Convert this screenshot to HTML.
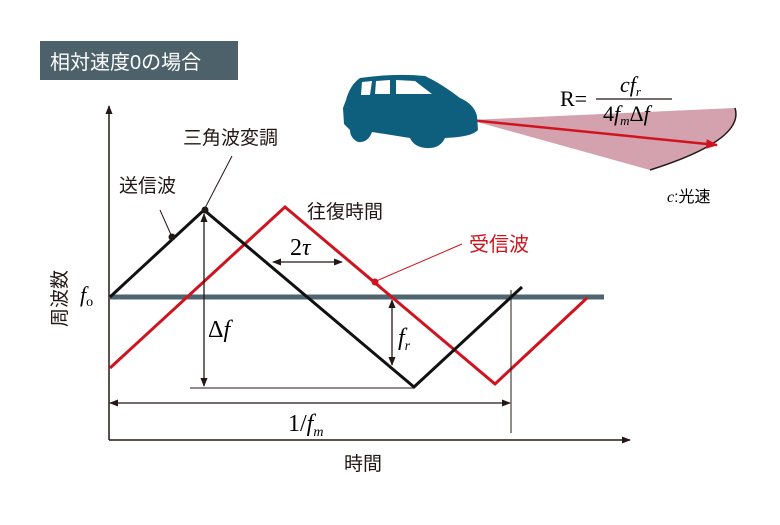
<!DOCTYPE html>
<html><head><meta charset="utf-8"><style>
body{margin:0;background:#fff;width:780px;height:520px;overflow:hidden}
svg text{font-family:"Liberation Sans","Noto Sans CJK JP",sans-serif}
.s{font-family:"Liberation Serif",serif;font-style:italic}
.r{font-family:"Liberation Serif",serif}
</style></head><body>
<svg width="780" height="520" viewBox="0 0 780 520" xmlns="http://www.w3.org/2000/svg">
<defs>
<marker id="a" viewBox="0 0 10 10" refX="9" refY="5" markerWidth="9" markerHeight="9" markerUnits="userSpaceOnUse" orient="auto-start-reverse"><path d="M0,1 L10,5 L0,9z" fill="#231815"/></marker>
<marker id="ar" viewBox="0 0 10 10" refX="9" refY="5" markerWidth="12" markerHeight="12" markerUnits="userSpaceOnUse" orient="auto"><path d="M0,1 L10,5 L0,9z" fill="#d0141f"/></marker>
</defs>
<rect x="40" y="41" width="198" height="39" fill="#4d616b"/>
<text x="50" y="69" font-size="20" fill="#fff">相対速度0の場合</text>
<!-- beam -->
<path d="M470,120 L735,108 Q745,140 650,170 Z" fill="#d4a2ae"/>
<path d="M735,108 Q745,140 650,170" fill="none" stroke="#231815" stroke-width="1.5"/>
<line x1="470" y1="120" x2="717" y2="145" stroke="#d0141f" stroke-width="2.5" marker-end="url(#ar)"/>
<!-- car -->
<path d="M346,100 Q350,85 360,78 Q395,73 425,76 Q442,84 460,98 Q474,104 477,116 L478,130 Q472,137 445,138 Q440,149 426,148 Q414,147 410,138 L372,132 Q368,143 358,142 Q350,138 350,130 L344,124 L343,108 Z" fill="#0e5f7d"/>
<path d="M362,82 L372,81 L370,95 L361,95 Z M376,81 L390,80 L390,94 L375,94 Z M396,80 L415,81 L432,94 L396,94 Z" fill="#fff"/>
<text x="560" y="106" font-size="22" class="r">R=</text>
<line x1="596" y1="99" x2="672" y2="99" stroke="#231815" stroke-width="1.3"/>
<text x="620" y="92" font-size="22" class="s">cf<tspan font-size="13" dy="4">r</tspan></text>
<text x="603" y="121" font-size="22" class="r">4<tspan class="s">f</tspan><tspan class="s" font-size="13" dy="4">m</tspan><tspan dy="-4">Δ</tspan><tspan class="s">f</tspan></text>
<text x="667" y="202" font-size="16"><tspan class="s">c</tspan>:光速</text>
<!-- axes -->
<line x1="109" y1="440" x2="109" y2="106" stroke="#231815" stroke-width="1.5" marker-end="url(#a)"/>
<line x1="109" y1="440" x2="630" y2="440" stroke="#231815" stroke-width="1.5" marker-end="url(#a)"/>
<line x1="110" y1="297" x2="604" y2="297" stroke="#4e6470" stroke-width="5"/>
<polyline points="110,368 285,207 495,384 587,298" fill="none" stroke="#d0141f" stroke-width="3"/>
<polyline points="110,297 204,210 414,387 522,287" fill="none" stroke="#111" stroke-width="3"/>
<!-- dims -->
<line x1="190" y1="388" x2="414" y2="388" stroke="#231815" stroke-width="1"/>
<line x1="204" y1="214" x2="204" y2="386" stroke="#231815" stroke-width="1.3" marker-start="url(#a)" marker-end="url(#a)"/>
<line x1="392" y1="300" x2="392" y2="365" stroke="#231815" stroke-width="1.3" marker-start="url(#a)" marker-end="url(#a)"/>
<line x1="273" y1="262" x2="342" y2="262" stroke="#231815" stroke-width="1.3" marker-start="url(#a)" marker-end="url(#a)"/>
<line x1="110" y1="403" x2="510" y2="403" stroke="#231815" stroke-width="1.3" marker-start="url(#a)" marker-end="url(#a)"/>
<line x1="511" y1="290" x2="511" y2="433" stroke="#231815" stroke-width="1"/>
<!-- leaders -->
<line x1="160" y1="210" x2="172" y2="237" stroke="#231815" stroke-width="1"/>
<line x1="232" y1="156" x2="204" y2="210" stroke="#231815" stroke-width="1"/>
<line x1="374" y1="282" x2="462" y2="244" stroke="#d0141f" stroke-width="1"/>
<circle cx="172" cy="237" r="3.5" fill="#231815"/>
<circle cx="205" cy="210" r="3.5" fill="#231815"/>
<circle cx="375" cy="282" r="3.5" fill="#d0141f"/>
<!-- labels -->
<text x="183" y="144" font-size="19" fill="#231815">三角波変調</text>
<text x="119" y="192" font-size="19" fill="#231815">送信波</text>
<text x="307" y="218" font-size="19" fill="#231815">往復時間</text>
<text x="469" y="251" font-size="20" fill="#d0141f">受信波</text>
<text x="290" y="255" font-size="24" class="r">2<tspan class="s">τ</tspan></text>
<text x="208" y="337" font-size="24" class="r">Δ<tspan class="s">f</tspan></text>
<text x="398" y="345" font-size="24" class="s">f<tspan font-size="14" dy="5">r</tspan></text>
<text x="288" y="431" font-size="24" class="r">1/<tspan class="s">f</tspan><tspan class="s" font-size="14" dy="5">m</tspan></text>
<text x="80" y="302" font-size="22" class="s">f<tspan class="r" font-style="normal" font-size="14" dy="4">o</tspan></text>
<text x="344" y="470" font-size="19" fill="#231815">時間</text>
<text transform="translate(66,327) rotate(-90)" font-size="19" fill="#231815">周波数</text>
</svg>
</body></html>
